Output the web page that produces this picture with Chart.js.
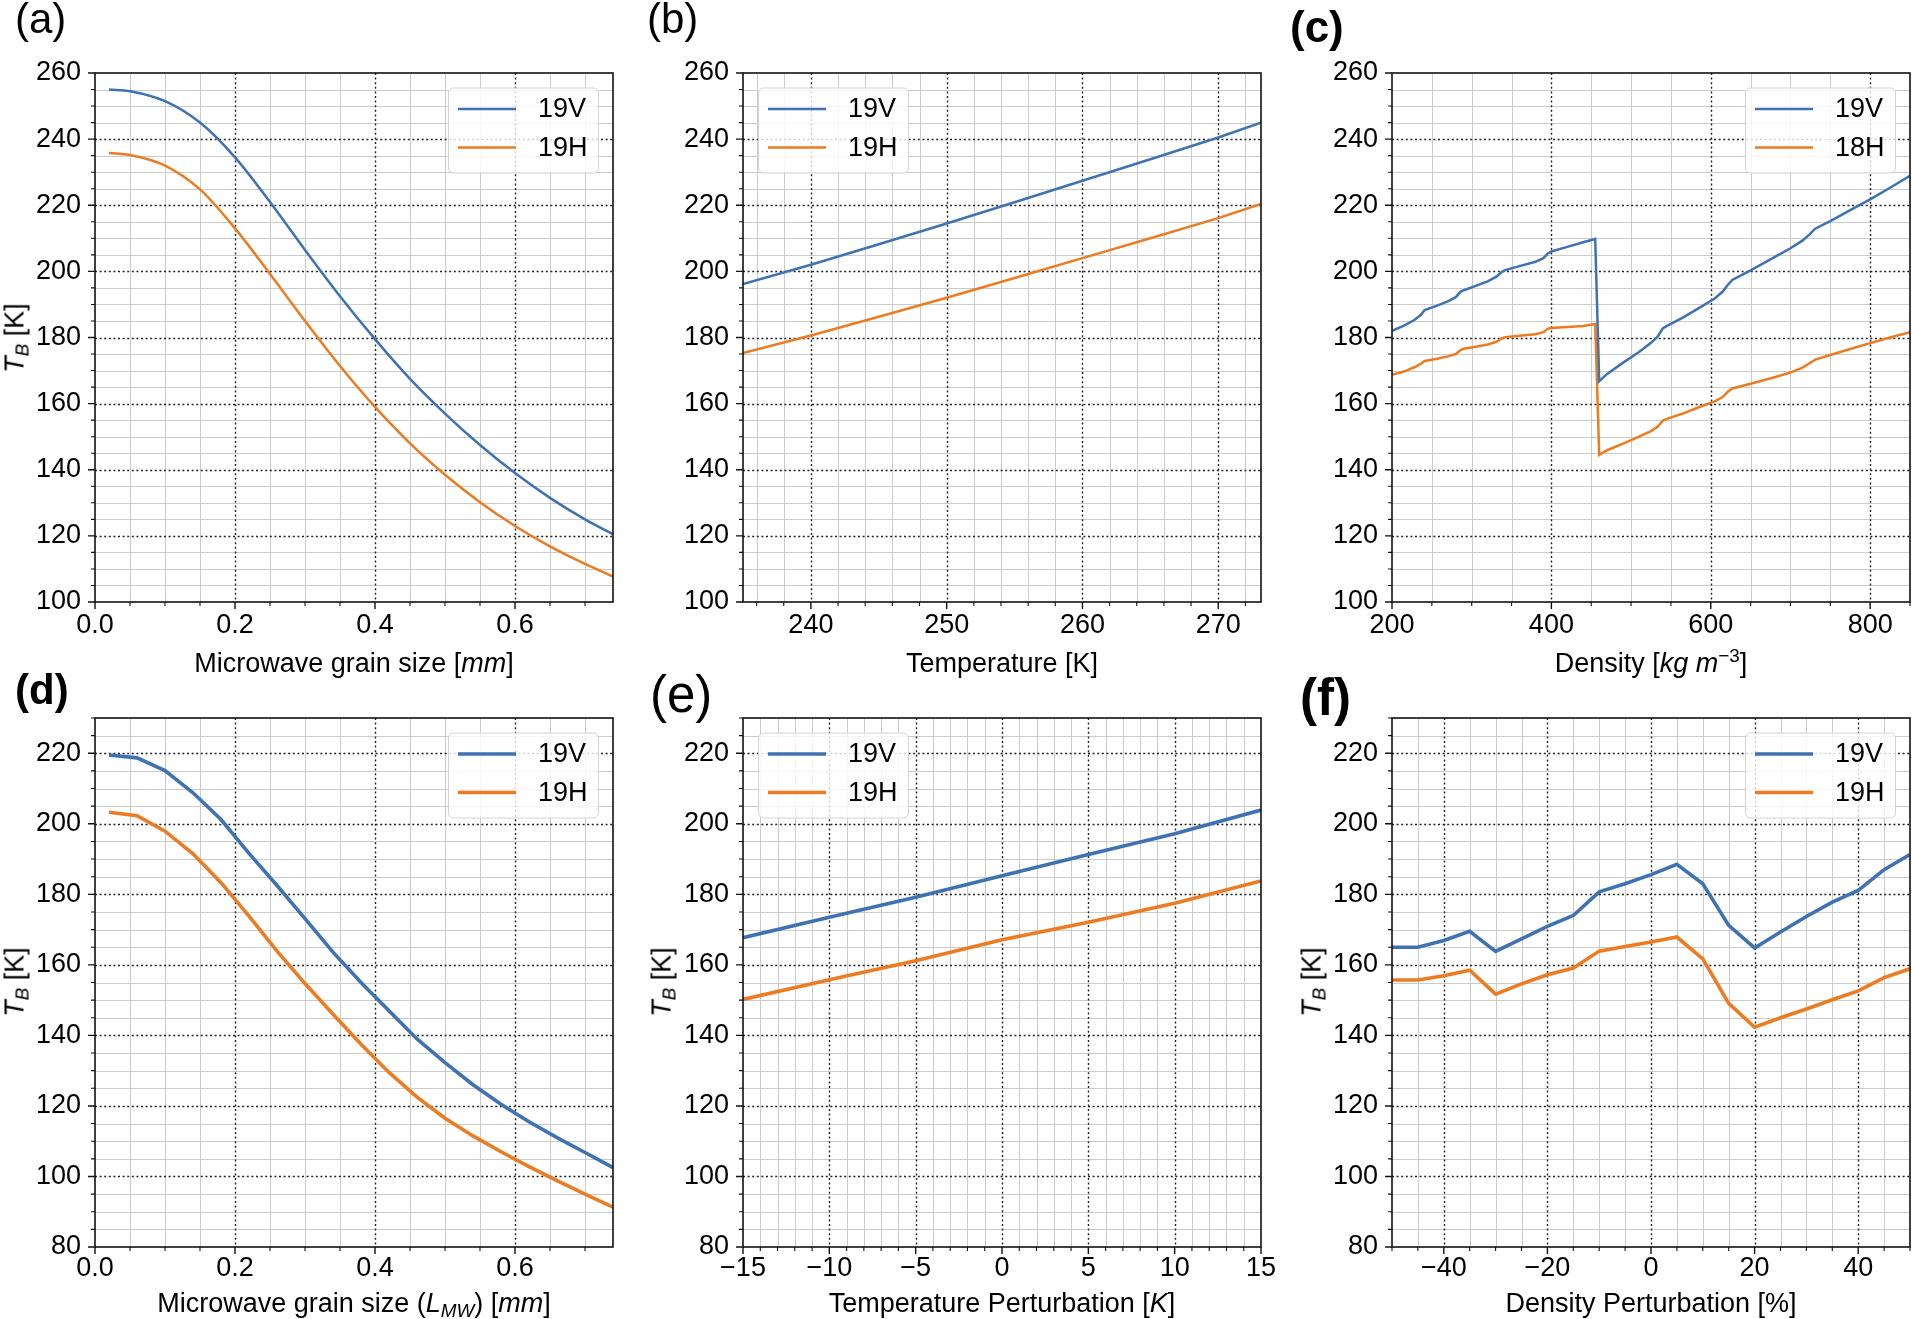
<!DOCTYPE html>
<html>
<head>
<meta charset="utf-8">
<title>TB sensitivity panels</title>
<script src="https://cdn.jsdelivr.net/npm/chart.js@4.4.0/dist/chart.umd.min.js"></script>
<style>
  body { margin: 0; background: #fff; overflow: hidden; }
  #fig { position: relative; width: 1912px; height: 1319px; overflow: hidden;
         font-family: "Liberation Sans", Arial, Helvetica, sans-serif; color: #000; }
  canvas { position: absolute; }
  .lbl { position: absolute; line-height: 1; white-space: nowrap; }
  .xt, .yt { position: absolute; font-size: 27px; line-height: 1; white-space: nowrap; }
  .xt { transform: translate(-50%, -50%); }
  .yt { transform: translate(-50%, -50%) rotate(-90deg); }
  sub { font-size: 0.7em; vertical-align: baseline; position: relative; top: 0.28em; }
  sup { font-size: 0.7em; vertical-align: baseline; position: relative; top: -0.55em; }
</style>
</head>
<body>
<div id="fig">
  <canvas id="pa"></canvas><canvas id="pb"></canvas><canvas id="pc"></canvas>
  <canvas id="pd"></canvas><canvas id="pe"></canvas><canvas id="pf"></canvas>

  <div class="lbl" style="left:15px;top:-2px;font-size:42px">(a)</div>
  <div class="lbl" style="left:647px;top:-2px;font-size:42px">(b)</div>
  <div class="lbl" style="left:1290px;top:5px;font-size:44px;font-weight:bold">(c)</div>
  <div class="lbl" style="left:15px;top:669px;font-size:42px;font-weight:bold">(d)</div>
  <div class="lbl" style="left:650px;top:669px;font-size:51px">(e)</div>
  <div class="lbl" style="left:1300px;top:672px;font-size:51px;font-weight:bold">(f)</div>

  <div class="xt" style="left:354px;top:663px">Microwave grain size [<i>mm</i>]</div>
  <div class="xt" style="left:1002px;top:663px">Temperature [K]</div>
  <div class="xt" style="left:1651px;top:663px">Density [<i>kg m</i><sup>−3</sup>]</div>
  <div class="xt" style="left:354px;top:1303px">Microwave grain size (<i>L</i><sub><i>MW</i></sub>) [<i>mm</i>]</div>
  <div class="xt" style="left:1002px;top:1303px">Temperature Perturbation [<i>K</i>]</div>
  <div class="xt" style="left:1651px;top:1303px">Density Perturbation [%]</div>

  <div class="yt" style="left:15px;top:338px"><i>T</i><sub><i>B</i></sub> [K]</div>
  <div class="yt" style="left:15px;top:982px"><i>T</i><sub><i>B</i></sub> [K]</div>
  <div class="yt" style="left:662px;top:982px"><i>T</i><sub><i>B</i></sub> [K]</div>
  <div class="yt" style="left:1312px;top:982px"><i>T</i><sub><i>B</i></sub> [K]</div>
</div>

<script>
// ---- data ----

// (a) grain size sweep
const aGrain = [0.02, 0.05, 0.10, 0.15, 0.20, 0.25, 0.30, 0.35, 0.40, 0.45, 0.50, 0.55, 0.60, 0.65, 0.70, 0.74];
const aTb19V = [255.0, 254.5, 251.5, 245.0, 234.5, 221.0, 206.5, 192.5, 179.5, 167.5, 157.0, 147.5, 139.0, 131.5, 125.0, 120.5];
const aTb19H = [235.8, 235.2, 232.0, 224.8, 213.0, 199.2, 185.0, 171.4, 159.0, 148.0, 138.5, 130.2, 123.0, 116.8, 111.5, 107.7];

// (b) temperature sweep
const bTemp = [235, 240, 245, 250, 255, 260, 265, 270, 273.15];
const bTb19V = [196.2, 202.0, 208.2, 214.5, 220.9, 227.4, 233.9, 240.5, 245.0];
const bTb19H = [175.3, 180.6, 186.3, 192.0, 198.0, 204.0, 210.0, 216.1, 220.4];

// (c) density sweep
const cDensity = [200, 215, 228, 236, 241, 255, 270, 280, 286, 290, 305, 320, 331, 338, 342, 360, 380, 390, 396, 400,
                  420, 440, 455, 460, 470, 490, 510, 525, 533, 540, 545, 565, 585, 605, 615, 621, 627, 650, 680, 700,
                  715, 724, 731, 750, 775, 800, 825, 850];
const cTb19V = [182.0, 183.6, 185.3, 186.8, 188.3, 189.5, 190.9, 192.2, 193.8, 194.3, 195.6, 197.0, 198.4, 199.9, 200.4,
                201.6, 202.9, 204.0, 205.5, 206.0, 207.4, 208.8, 209.8, 166.8, 169.0, 172.4, 175.6, 178.4, 180.2, 182.8,
                183.5, 186.0, 188.9, 191.8, 193.9, 195.8, 197.4, 200.3, 204.3, 207.0, 209.3, 211.2, 212.9, 215.2, 218.5,
                221.8, 225.3, 228.9];
const cTb18H = [168.7, 169.7, 171.0, 172.0, 172.9, 173.5, 174.3, 175.0, 176.2, 176.6, 177.2, 177.9, 178.7, 179.8, 180.1,
                180.5, 181.0, 181.6, 182.7, 182.9, 183.2, 183.5, 184.1, 144.5, 145.9, 147.9, 150.0, 151.7, 153.0, 154.9,
                155.4, 157.0, 158.9, 160.7, 162.0, 163.5, 164.6, 166.0, 168.0, 169.4, 170.9, 172.2, 173.3, 174.7, 176.5,
                178.3, 180.0, 181.6];

// (d) grain size (L_MW)
const dGrain = [0.02, 0.06, 0.10, 0.14, 0.18, 0.22, 0.26, 0.30, 0.34, 0.38, 0.42, 0.46, 0.50, 0.54, 0.58, 0.62, 0.66, 0.70, 0.74];
const dTb19V = [219.5, 218.7, 215.1, 208.8, 201.2, 191.6, 182.5, 173.1, 163.6, 155.0, 147.0, 139.0, 132.3, 126.0, 120.5, 115.5, 111.0, 106.8, 102.5];
const dTb19H = [203.3, 202.3, 197.9, 191.5, 183.3, 173.8, 163.9, 154.7, 146.0, 137.5, 129.5, 122.5, 116.5, 111.5, 107.0, 102.8, 98.8, 95.0, 91.3];

// (e) temperature perturbation
const eDT = [-15, -10, -5, 0, 5, 10, 15];
const eTb19V = [167.7, 173.5, 179.2, 185.3, 191.3, 197.2, 203.9];
const eTb19H = [150.2, 155.8, 161.2, 167.1, 172.1, 177.5, 183.8];

// (f) density perturbation
const fDRho = [-50, -45, -40, -35, -30, -25, -20, -15, -10, -5, 0, 5, 10, 15, 20, 25, 30, 35, 40, 45, 50];
const fTb19V = [165.0, 165.0, 166.9, 169.5, 163.8, 167.4, 170.9, 174.0, 180.7, 183.0, 185.6, 188.5, 183.0, 171.2, 164.8, 169.3, 173.7, 177.8, 181.1, 187.0, 191.3];
const fTb19H = [155.7, 155.7, 156.9, 158.5, 151.7, 154.6, 157.2, 159.1, 163.9, 165.2, 166.5, 167.9, 161.7, 149.1, 142.3, 145.0, 147.5, 150.1, 152.6, 156.4, 158.9];

// tick labels
const topTicksY = [100, 120, 140, 160, 180, 200, 220, 240, 260];
const botTicksY = [80, 100, 120, 140, 160, 180, 200, 220];
const grainTicksX = [0.0, 0.2, 0.4, 0.6];
const tempTicksX = [240, 250, 260, 270];
const densTicksX = [200, 400, 600, 800];
const dtTicksX = [-15, -10, -5, 0, 5, 10, 15];
const drhoTicksX = [-40, -20, 0, 20, 40];

const FONT = '"Liberation Sans", Arial, Helvetica, sans-serif';
const BLUE = '#3f72b3';
const ORANGE = '#ec7b22';

// minor positions between the labelled ones
function minorVals(min, max, step, majorStep) {
  const out = [];
  for (let k = Math.ceil(min / step - 1e-9); k * step <= max + 1e-9; k++) {
    const v = +(k * step).toFixed(6);
    const r = v / majorStep;
    if (Math.abs(r - Math.round(r)) < 1e-6) continue;
    out.push(v);
  }
  return out;
}

// grid, frame, ticks and legend, drawn from the chart's own scales
const axesDecor = {
  id: 'axesDecor',
  beforeDatasetsDraw(chart, args, o) {
    const { ctx, chartArea: ca, scales: { x, y } } = chart;
    const inX = px => px > ca.left + 1 && px < ca.right - 1;
    const inY = py => py > ca.top + 1 && py < ca.bottom - 1;
    ctx.save();
    ctx.strokeStyle = '#cbcbcb';
    ctx.lineWidth = 1;
    ctx.beginPath();
    o.xMinor.forEach(v => {
      const px = Math.round(x.getPixelForValue(v)) + 0.5;
      if (inX(px)) { ctx.moveTo(px, ca.top); ctx.lineTo(px, ca.bottom); }
    });
    o.yMinor.forEach(v => {
      const py = Math.round(y.getPixelForValue(v)) + 0.5;
      if (inY(py)) { ctx.moveTo(ca.left, py); ctx.lineTo(ca.right, py); }
    });
    ctx.stroke();

    ctx.strokeStyle = '#222';
    ctx.lineWidth = 1.4;
    ctx.setLineDash([2, 2.6]);
    ctx.beginPath();
    o.xMajor.forEach(v => {
      const px = Math.round(x.getPixelForValue(v)) + 0.5;
      if (inX(px)) { ctx.moveTo(px, ca.top); ctx.lineTo(px, ca.bottom); }
    });
    o.yMajor.forEach(v => {
      const py = Math.round(y.getPixelForValue(v)) + 0.5;
      if (inY(py)) { ctx.moveTo(ca.left, py); ctx.lineTo(ca.right, py); }
    });
    ctx.stroke();
    ctx.restore();
  },
  afterDatasetsDraw(chart, args, o) {
    const { ctx, chartArea: ca, scales: { x, y } } = chart;
    ctx.save();
    // frame
    ctx.strokeStyle = '#111';
    ctx.lineWidth = 1.6;
    ctx.strokeRect(ca.left, ca.top, ca.right - ca.left, ca.bottom - ca.top);
    // tick marks, outward on left and bottom
    const tick = (vals, len, w) => {
      ctx.lineWidth = w;
      ctx.beginPath();
      vals.forEach(v => {
        const px = x.getPixelForValue(v);
        if (px >= ca.left - 0.5 && px <= ca.right + 0.5) { ctx.moveTo(px, ca.bottom); ctx.lineTo(px, ca.bottom + len); }
      });
      ctx.stroke();
    };
    const tickY = (vals, len, w) => {
      ctx.lineWidth = w;
      ctx.beginPath();
      vals.forEach(v => {
        const py = y.getPixelForValue(v);
        if (py >= ca.top - 0.5 && py <= ca.bottom + 0.5) { ctx.moveTo(ca.left, py); ctx.lineTo(ca.left - len, py); }
      });
      ctx.stroke();
    };
    tick(o.xMajor, 7, 1.4); tick(o.xMinor, 4, 1.1);
    tickY(o.yMajor, 7, 1.4); tickY(o.yMinor, 4, 1.1);

    // legend box
    const bw = 150, bh = 85;
    const bx = o.legend === 'left' ? ca.left + 15 : ca.right - 15 - bw;
    const by = ca.top + 14.5;
    ctx.beginPath();
    ctx.roundRect(bx + 0.5, by + 0.5, bw, bh, 5);
    ctx.fillStyle = 'rgba(255,255,255,0.8)';
    ctx.fill();
    ctx.strokeStyle = '#d4d4d4';
    ctx.lineWidth = 1;
    ctx.stroke();
    chart.data.datasets.forEach((ds, i) => {
      const cy = by + 21.5 + i * 38.5;
      ctx.strokeStyle = ds.borderColor;
      ctx.lineWidth = ds.borderWidth;
      ctx.beginPath();
      ctx.moveTo(bx + 10, cy);
      ctx.lineTo(bx + 68, cy);
      ctx.stroke();
      ctx.fillStyle = '#000';
      ctx.font = '27px ' + FONT;
      ctx.textBaseline = 'middle';
      ctx.textAlign = 'left';
      ctx.fillText(ds.label, bx + 90, cy + 1);
    });
    ctx.restore();
  }
};

const fmt = (v, dec) => {
  const s = Number(v).toFixed(dec);
  return s.replace('-', '\u2212');
};

function makePanel(p) {
  const [L, T, W, H] = p.rect;
  // top padding must cover half a tick label plus the tick padding Chart.js reserves
  const padL = 100, padT = 36, padR = 25, padB = 50;
  const cv = document.getElementById(p.id);
  cv.width = W + padL + padR;
  cv.height = H + padT + padB;
  cv.style.left = (L - padL) + 'px';
  cv.style.top = (T - padT) + 'px';

  const tickFont = { family: FONT, size: 27 };
  new Chart(cv, {
    type: 'line',
    data: {
      datasets: p.series.map((s, i) => ({
        label: s[0],
        data: s[1].map((xv, k) => ({ x: xv, y: s[2][k] })),
        borderColor: i === 0 ? BLUE : ORANGE,
        borderWidth: p.lw,
        pointRadius: 0,
        fill: false,
        tension: 0,
        cubicInterpolationMode: p.smooth ? 'monotone' : 'default',
        clip: 0
      }))
    },
    options: {
      responsive: false,
      animation: false,
      events: [],
      layout: { padding: { left: 0, top: padT, right: padR, bottom: 0 } },
      plugins: {
        legend: { display: false },
        tooltip: { enabled: false },
        axesDecor: {
          xMajor: p.xTicks, yMajor: p.yTicks,
          xMinor: minorVals(p.xMin, p.xMax, p.xMinorStep, p.xMajorStep),
          yMinor: minorVals(p.yMin, p.yMax, 5, 20),
          legend: p.legend
        }
      },
      scales: {
        x: {
          type: 'linear', position: 'bottom', min: p.xMin, max: p.xMax,
          afterBuildTicks: s => { s.ticks = p.xTicks.map(v => ({ value: v })); },
          afterFit: s => { s.height = padB; },
          grid: { display: false, drawTicks: false },
          border: { display: false },
          ticks: { font: tickFont, color: '#000', padding: p.xPad, autoSkip: false, maxRotation: 0,
                   callback: v => fmt(v, p.xDec) }
        },
        y: {
          type: 'linear', position: 'left', min: p.yMin, max: p.yMax,
          afterBuildTicks: s => { s.ticks = p.yTicks.map(v => ({ value: v })); },
          afterFit: s => { s.width = padL; },
          grid: { display: false, drawTicks: false },
          border: { display: false },
          ticks: { font: tickFont, color: '#000', padding: 14, autoSkip: false,
                   callback: v => fmt(v, 0) }
        }
      }
    },
    plugins: [axesDecor]
  });
}

const TOP = 73, BOT = 718, PW = 518, PH = 529;

makePanel({ id: 'pa', rect: [95, TOP, PW, PH], xMin: 0, xMax: 0.74, yMin: 100, yMax: 260,
  xTicks: grainTicksX, yTicks: topTicksY, xMinorStep: 0.05, xMajorStep: 0.2, xDec: 1,
  series: [['19V', aGrain, aTb19V], ['19H', aGrain, aTb19H]], legend: 'right', lw: 2.5, smooth: true, xPad: 7 });

makePanel({ id: 'pb', rect: [743, TOP, PW, PH], xMin: 235, xMax: 273.15, yMin: 100, yMax: 260,
  xTicks: tempTicksX, yTicks: topTicksY, xMinorStep: 2, xMajorStep: 10, xDec: 0,
  series: [['19V', bTemp, bTb19V], ['19H', bTemp, bTb19H]], legend: 'left', lw: 2.5, xPad: 7 });

makePanel({ id: 'pc', rect: [1392, TOP, PW, PH], xMin: 200, xMax: 850, yMin: 100, yMax: 260,
  xTicks: densTicksX, yTicks: topTicksY, xMinorStep: 50, xMajorStep: 200, xDec: 0,
  series: [['19V', cDensity, cTb19V], ['18H', cDensity, cTb18H]], legend: 'right', lw: 2.5, xPad: 7 });

makePanel({ id: 'pd', rect: [95, BOT, PW, PH], xMin: 0, xMax: 0.74, yMin: 80, yMax: 230,
  xTicks: grainTicksX, yTicks: botTicksY, xMinorStep: 0.05, xMajorStep: 0.2, xDec: 1,
  series: [['19V', dGrain, dTb19V], ['19H', dGrain, dTb19H]], legend: 'right', lw: 3.6, xPad: 5 });

makePanel({ id: 'pe', rect: [743, BOT, PW, PH], xMin: -15, xMax: 15, yMin: 80, yMax: 230,
  xTicks: dtTicksX, yTicks: botTicksY, xMinorStep: 1, xMajorStep: 5, xDec: 0,
  series: [['19V', eDT, eTb19V], ['19H', eDT, eTb19H]], legend: 'left', lw: 3.6, xPad: 5 });

makePanel({ id: 'pf', rect: [1392, BOT, PW, PH], xMin: -50, xMax: 50, yMin: 80, yMax: 230,
  xTicks: drhoTicksX, yTicks: botTicksY, xMinorStep: 5, xMajorStep: 20, xDec: 0,
  series: [['19V', fDRho, fTb19V], ['19H', fDRho, fTb19H]], legend: 'right', lw: 3.6, xPad: 5 });
</script>
</body>
</html>
